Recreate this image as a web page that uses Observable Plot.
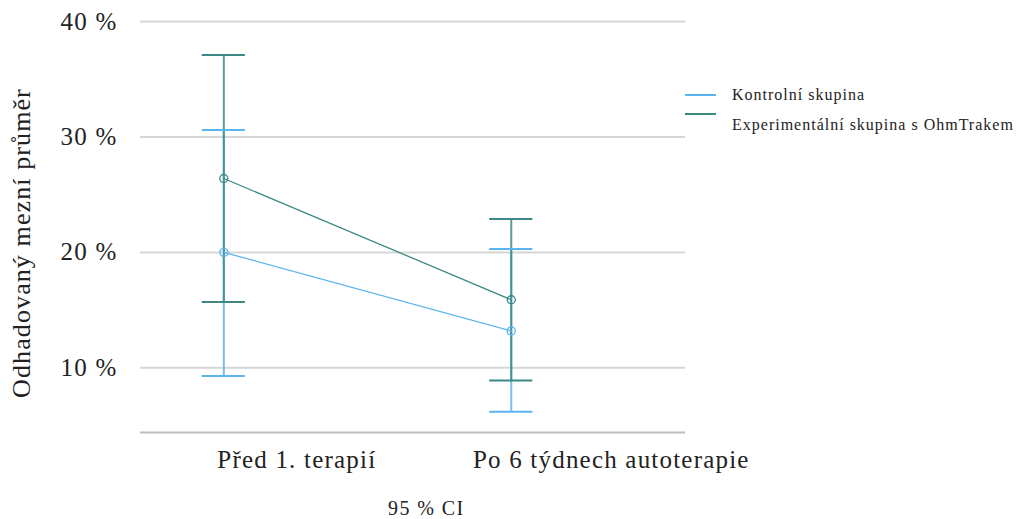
<!DOCTYPE html>
<html>
<head>
<meta charset="utf-8">
<script src="https://cdn.jsdelivr.net/npm/d3@7"></script>
<script src="https://cdn.jsdelivr.net/npm/@observablehq/plot@0.6"></script>
<style>
  html, body { margin: 0; padding: 0; background: #fff; }
  #wrap { position: relative; width: 1024px; height: 519px; font-family: "Liberation Serif", "Times New Roman", serif; color: #222; }
  #ytitle { position: absolute; left: 22px; top: 243px; transform: translate(-50%, -50%) rotate(-90deg); white-space: nowrap; font-size: 26px; letter-spacing: 1.1px; }
  #caption { position: absolute; left: 388px; top: 497px; font-size: 20px; letter-spacing: 1.4px; white-space: nowrap; }
  .lg-line { position: absolute; left: 685px; width: 31px; height: 2px; }
  .lg-text { position: absolute; left: 732px; font-size: 16px; letter-spacing: 1px; white-space: nowrap; transform: translateY(-50%); }
</style>
</head>
<body>
<div id="wrap">
  <div id="chart"></div>
  <div id="ytitle"></div>
  <div id="caption"></div>
  <div id="legend"></div>
</div>
<script>
const categories = ["Před 1. terapií", "Po 6 týdnech autoterapie"];
const groups = ["Kontrolní skupina", "Experimentální skupina s OhmTrakem"];
const colors = ["#5ab4ee", "#3b8985"];
const kontrolMean = [20.0, 13.2];
const kontrolLow = [9.3, 6.2];
const kontrolHigh = [30.6, 20.3];
const expMean = [26.4, 15.9];
const expLow = [15.7, 8.9];
const expHigh = [37.1, 22.9];
const yTicks = [10, 20, 30, 40];
const yDomain = [4.4, 40];
const yTitle = "Odhadovaný mezní průměr";
const captionText = "95 % CI";

const rows = [];
categories.forEach((c, i) => {
  rows.push({cat: c, group: groups[0], mean: kontrolMean[i], low: kontrolLow[i], high: kontrolHigh[i]});
});
categories.forEach((c, i) => {
  rows.push({cat: c, group: groups[1], mean: expMean[i], low: expLow[i], high: expHigh[i]});
});

const font = '"Liberation Serif", "Times New Roman", serif';

const chart = Plot.plot({
  width: 1024,
  height: 519,
  marginLeft: 140,
  marginRight: 339,
  marginTop: 21,
  marginBottom: 87,
  style: {fontFamily: font, fontSize: "25px", color: "#222", background: "#fff", letterSpacing: "1.2px"},
  x: {type: "band", domain: categories, paddingInner: 0.85, paddingOuter: 0.373, align: 0.288, round: false, label: null},
  y: {domain: yDomain, ticks: yTicks, label: null},
  color: {domain: groups, range: colors},
  marks: [
    Plot.gridY(yTicks, {stroke: "#d6d6d6", strokeOpacity: 1, strokeWidth: 2}),
    Plot.ruleY([yDomain[0]], {stroke: "#bdbdbd", strokeWidth: 2}),
    Plot.axisY(yTicks, {tickSize: 0, tickPadding: 23, tickFormat: d => `${d} %`, fontSize: 25, label: null}),
    Plot.axisX([categories[0]], {tickSize: 0, tickPadding: 18, dx: 73, fontSize: 25, label: null}),
    Plot.axisX([categories[1]], {tickSize: 0, tickPadding: 18, dx: 100, fontSize: 25, label: null}),
    Plot.ruleX(rows, {x: "cat", y1: "low", y2: "high", stroke: "group", strokeWidth: 2, strokeOpacity: 0.85}),
    Plot.tickY(rows, {x: "cat", y: "low", stroke: "group", strokeWidth: 2}),
    Plot.tickY(rows, {x: "cat", y: "high", stroke: "group", strokeWidth: 2}),
    Plot.line(rows, {x: "cat", y: "mean", z: "group", stroke: "group", strokeWidth: 1.3}),
    Plot.dot(rows, {x: "cat", y: "mean", stroke: "group", r: 4, strokeWidth: 1.3, fill: "none"})
  ]
});
document.getElementById("chart").appendChild(chart);

document.getElementById("ytitle").textContent = yTitle;
document.getElementById("caption").textContent = captionText;
const legend = document.getElementById("legend");
const lineTops = [94, 113];
const textCenters = [95, 125];
groups.forEach((g, i) => {
  const sw = document.createElement("div");
  sw.className = "lg-line";
  sw.style.background = colors[i];
  sw.style.top = lineTops[i] + "px";
  const t = document.createElement("div");
  t.className = "lg-text";
  t.style.top = textCenters[i] + "px";
  t.textContent = g;
  legend.appendChild(sw);
  legend.appendChild(t);
});
</script>
</body>
</html>
